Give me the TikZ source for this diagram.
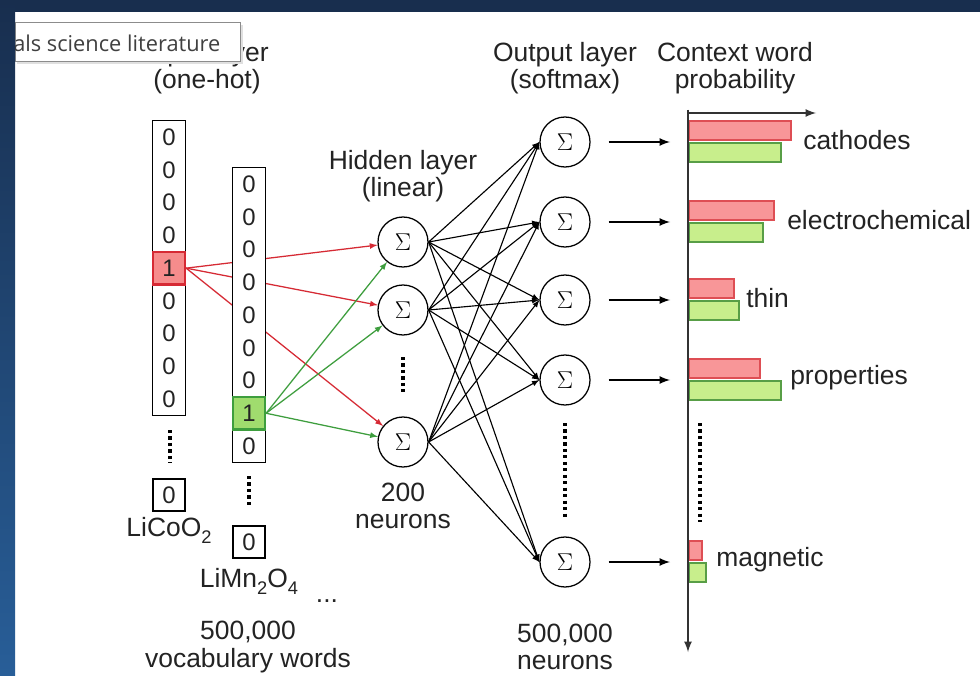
\documentclass[tikz,border=0pt]{standalone}
\usepackage{fontspec}
\setmainfont{Liberation Sans}
\newfontfamily\tipfont{Open Sans}
\usetikzlibrary{calc}
\definecolor{slidetop}{RGB}{24,46,78}
\definecolor{slidelow}{RGB}{40,94,152}
\definecolor{hotred}{RGB}{214,42,52}
\definecolor{hotredfill}{RGB}{246,140,140}
\definecolor{hotgreen}{RGB}{62,158,62}
\definecolor{hotgreenfill}{RGB}{160,220,110}
\definecolor{barred}{RGB}{248,150,152}
\definecolor{barredline}{RGB}{222,78,84}
\definecolor{bargreen}{RGB}{200,238,140}
\definecolor{bargreenline}{RGB}{88,158,70}
\definecolor{ink}{RGB}{35,35,35}
\newcommand{\chsub}[1]{\raisebox{-0.5ex}{\fontsize{13}{13}\selectfont #1}}
\tikzset{my arrow/.style={
  black,
  line width=0.8pt,
  -latex
  }
}
\tikzset{red arrow/.style={hotred,line width=0.9pt,-latex}}
\tikzset{green arrow/.style={hotgreen,line width=0.9pt,-latex}}
\tikzset{out arrow/.style={black,line width=1.5pt,-latex,shorten <=0.45cm}}
\tikzset{cell/.style={minimum width=0.8cm,minimum height=0.8175cm,inner sep=0pt,font=\fontsize{17}{17}\selectfont,text=ink}}
\tikzset{neuron/.style={draw,circle,line width=0.9pt,minimum size=1.25cm,inner sep=0pt,font=\fontsize{16}{16}\selectfont}}
\tikzset{label/.style={align=center,inner sep=1pt,text=ink,font=\fontsize{18.8}{19.3}\selectfont}}
\tikzset{word/.style={anchor=west,inner sep=0pt,text=ink,font=\fontsize{18.8}{19.3}\selectfont}}
\tikzset{dots/.style={line width=2.2pt,dash pattern=on 2.2pt off 2.4pt}}

\begin{document}
\begin{tikzpicture}[x=0.025cm,y=-0.025cm]
    \useasboundingbox (0,0) rectangle (980,676);
    \fill[white] (0,0) rectangle (980,676);

    % hidden and output neurons
    \foreach \y [count=\n] in {242,310,442}
        \node[neuron](h\n) at (403,\y) {$\Sigma$};
    \foreach \y [count=\n] in {142,222,300,380,562}
        \node[neuron](o\n) at (565,\y) {$\Sigma$};

    % one-hot vectors
    \foreach \d [count=\n] in {0,0,0,0,1,0,0,0,0}
        \node[cell](a\n) at (169,137.35+\n*32.7-32.7) {\d};
    \draw[line width=1pt] (a1.north west) rectangle (a9.south east);
    \node[cell,draw=hotred,fill=hotredfill,line width=1.6pt] (a5) at (169,268.15) {1};

    \foreach \n in {1,2,3}
        \draw[red arrow] (a5.east) -- (h\n);

    \foreach \d [count=\n] in {0,0,0,0,0,0,0,1,0}
        \node[cell](b\n) at (249,184.35+\n*32.7-32.7) {};
    \draw[line width=1pt,fill=white] (b1.north west) rectangle (b9.south east);
    \foreach \d [count=\n] in {0,0,0,0,0,0,0,1,0}
        \node[cell](b\n) at (249,184.35+\n*32.7-32.7) {\d};
    \node[cell,draw=hotgreen,fill=hotgreenfill,line width=1.6pt] (b8) at (249,413.25) {1};

    \foreach \n in {1,2,3}
        \draw[green arrow] (b8.east) -- (h\n);

    \draw[dots] (170,430) -- (170,463);
    \node[cell,draw,line width=1pt,minimum height=0.8cm] (a0) at (169,495) {0};
    \node[label] (nameA) at (169,530) {LiCoO\chsub{2}};

    \draw[dots] (249,476) -- (249,507);
    \node[cell,draw,line width=1pt,minimum height=0.8cm] (b0) at (249,542) {0};
    \node[label] (nameB) at (249,581) {LiMn\chsub{2}O\chsub{4}};

    \node[label] (more) at (327,601) {...};
    \node[label] (vocab) at (248,647) {500,000\\vocabulary words};

    \foreach \i in {1,2,3}
        \foreach \j in {1,...,5}
            \draw[my arrow] (h\i.east) -- (o\j.west);

    \draw[dots] (403,357) -- (403,395);
    \draw[dots] (565,423) -- (565,520);

    \node[label] (inlab) at (207,68) {Input layer\\(one-hot)};
    \node[label] (hidlab) at (403,176) {Hidden layer\\(linear)};
    \node[label] (hidnum) at (403,506) {200\\neurons};
    \node[label] (outlab) at (565,68) {Output layer\\(softmax)};
    \node[label] (outnum) at (565,647) {500,000\\neurons};
    \node[label] (problab) at (735,68) {Context word\\probability};

    % probability chart
    \coordinate (ax) at (688,110);
    \coordinate (axx) at (816,113);
    \coordinate (axy) at (688,652);
    \coordinate (axc) at (688,113);
    \draw[line width=1.5pt,black!80,-latex] (ax) -- (axy);
    \draw[line width=1.5pt,black!80,-latex] (axc) -- (axx);

    \foreach \y/\r/\g/\w/\lx [count=\n] in {142/791/781/cathodes/803,222/774/763/electrochemical/787,300/734/739/thin/746,380/760/781/properties/790,562/702/706/magnetic/716} {
        \draw[fill=barred,draw=barredline,line width=1pt] (689,\y-21) rectangle (\r,\y-2);
        \draw[fill=bargreen,draw=bargreenline,line width=1pt] (689,\y+1) rectangle (\g,\y+20);
        \node[word] (w\n) at (\lx,\y-2) {\w};
        \coordinate (t\n) at (670,\y);
        \draw[out arrow] (o\n.east) -- (t\n);
    }
    \draw[line width=1.5pt,black!80] (688,110) -- (688,640);
    \draw[dots] (700,423) -- (700,522);

    % tooltip and slide frame
    \fill[black!12] (17,25) rectangle (243,64);
    \draw[black!45,fill=white,line width=0.6pt] (15,22.7) rectangle (240.7,61.7);
    \node[anchor=west,inner sep=0pt,text=black!75,font=\tipfont\fontsize{15.5}{16}\selectfont] (tip) at (13,43) {als science literature};
    \fill[slidetop] (0,0) rectangle (980,12);
    \shade[top color=slidetop,bottom color=slidelow] (0,0) rectangle (15,676);
\end{tikzpicture}
\end{document}
